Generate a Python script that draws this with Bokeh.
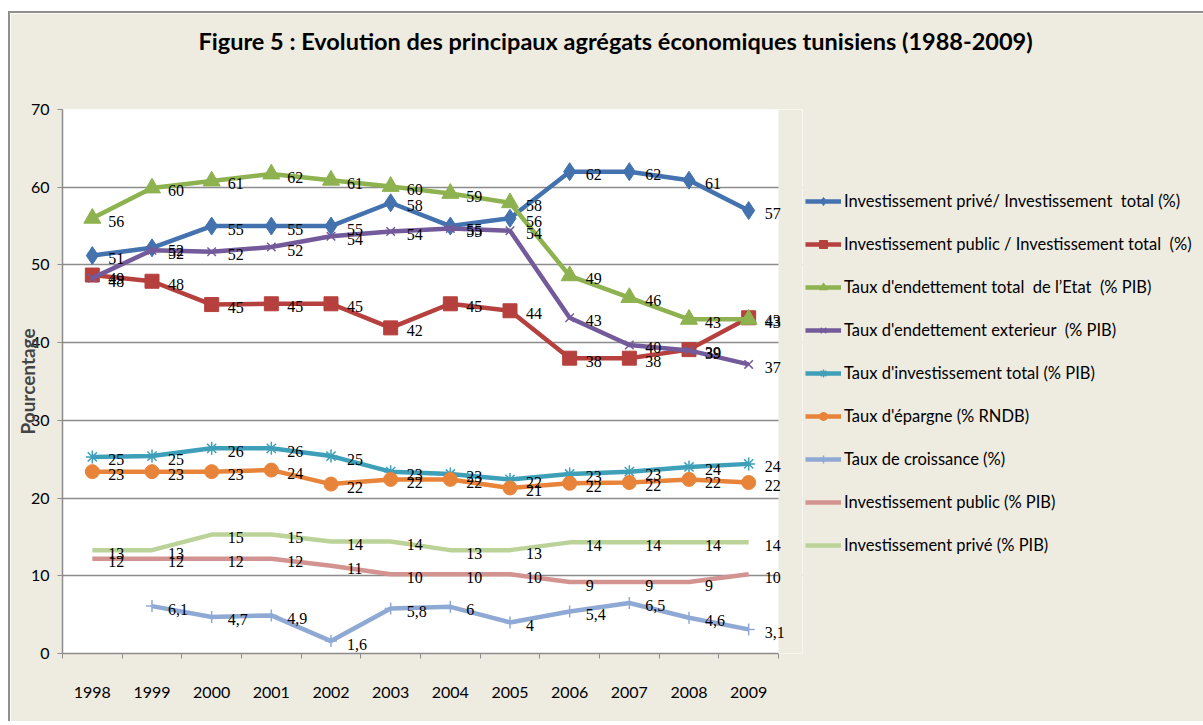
import math
from bokeh.plotting import figure
from bokeh.models import (ColumnDataSource, Range1d, LinearAxis, FixedTicker, Legend,
                          LegendItem, Title, LabelSet, NumeralTickFormatter, BoxAnnotation)
from bokeh.embed import file_html
from bokeh.resources import INLINE

# ---------------- data ----------------
years = [1998, 1999, 2000, 2001, 2002, 2003, 2004, 2005, 2006, 2007, 2008, 2009]
y_ticks = [0, 10, 20, 30, 40, 50, 60, 70]

title_text = "Figure 5 : Evolution des principaux agrégats économiques tunisiens (1988-2009)"
y_label = "Pourcentage"

names = [
    "Investissement privé/ Investissement  total (%)",
    "Investissement public / Investissement total  (%)",
    "Taux d'endettement total  de l\u2019Etat  (% PIB)",
    "Taux d'endettement exterieur  (% PIB)",
    "Taux d'investissement total (% PIB)",
    "Taux d'épargne (% RNDB)",
    "Taux de croissance (%)",
    "Investissement public (% PIB)",
    "Investissement privé (% PIB)",
]

inv_prive_sur_total = [51.2, 52.2, 55.0, 55.0, 55.0, 58.0, 55.0, 56.0, 62.0, 62.0, 60.9, 57.0]
inv_public_sur_total = [48.7, 47.9, 44.9, 45.0, 45.0, 41.9, 45.0, 44.1, 38.0, 38.0, 39.1, 43.2]
endettement_total = [56.0, 59.9, 60.8, 61.7, 60.9, 60.1, 59.2, 58.0, 48.6, 45.8, 43.0, 43.0]
endettement_ext = [48.3, 51.9, 51.7, 52.3, 53.7, 54.3, 54.7, 54.4, 43.2, 39.7, 39.0, 37.2]
investissement_total = [25.3, 25.4, 26.4, 26.4, 25.4, 23.4, 23.1, 22.4, 23.1, 23.4, 24.0, 24.4]
epargne = [23.4, 23.4, 23.4, 23.6, 21.8, 22.4, 22.4, 21.3, 21.9, 22.0, 22.4, 22.0]
croissance = [float("nan"), 6.1, 4.7, 4.9, 1.6, 5.8, 6.0, 4.0, 5.4, 6.5, 4.6, 3.1]
inv_public_pib = [12.2, 12.2, 12.2, 12.2, 11.3, 10.2, 10.2, 10.2, 9.2, 9.2, 9.2, 10.2]
inv_prive_pib = [13.3, 13.3, 15.3, 15.3, 14.4, 14.4, 13.3, 13.3, 14.3, 14.3, 14.3, 14.3]

series = [inv_prive_sur_total, inv_public_sur_total, endettement_total, endettement_ext,
          investissement_total, epargne, croissance, inv_public_pib, inv_prive_pib]

colors = ["#4372AE", "#B5403D", "#8DB24F", "#735A9A", "#3E9FB8", "#E8843A",
          "#8FA9D5", "#D39391", "#BBD399"]
markers = ["diamond", "square", "triangle", "x", "asterisk", "circle", "cross", None, None]
msizes = [18, 14, 17, 12, 13, 14, 12, 0, 0]

FONT = "Lato"
BG = "#EEEBE0"
AX = "#8C8C8C"

CAT_PX = 59.67          # pixel width of one year category
EXTRA_PX = 24           # room on the right of the plot area for end labels
x_start = years[0] - 0.5
x_end_plot = years[-1] + 0.5

p = figure(frame_width=716 + EXTRA_PX, frame_height=544,
           x_range=Range1d(x_start, x_end_plot + EXTRA_PX / CAT_PX), y_range=Range1d(0, 70),
           output_backend="svg", toolbar_location=None,
           min_border_left=52, min_border_right=397, min_border_top=96, min_border_bottom=68)
p.margin = (11, 0, 0, 8)
p.styles = {"border-top": "2px solid #8F8F8F", "border-left": "2px solid #8F8F8F"}

p.background_fill_color = "white"
p.border_fill_color = BG
p.outline_line_color = None

p.title = Title(text=title_text, align="left", offset=136, standoff=22,
                padding=dict(left=0, right=0, top=0, bottom=44),
                text_font=FONT, text_font_size="23.5px", text_font_style="bold",
                text_color="black")

# y axis
ya = p.yaxis[0]
ya.ticker = FixedTicker(ticks=y_ticks)
ya.axis_label = y_label
ya.axis_label_text_font = FONT
ya.axis_label_text_font_style = "bold"
ya.axis_label_text_font_size = "19px"
ya.axis_label_standoff = -11
ya.major_label_text_font = FONT
ya.major_label_text_font_size = "16px"
ya.major_label_text_color = "black"
ya.major_label_standoff = 8
ya.major_tick_out = 5
ya.major_tick_in = 0
ya.minor_tick_line_color = None
ya.axis_line_color = AX
ya.axis_line_width = 1.5
ya.major_tick_line_color = AX

p.ygrid.ticker = FixedTicker(ticks=y_ticks)
p.ygrid.grid_line_color = AX
p.ygrid.grid_line_width = 1.5
p.xgrid.visible = False

# x axis: ticks at category boundaries
xa = p.xaxis[0]
xa.ticker = FixedTicker(ticks=[y - 0.5 for y in years] + [years[-1] + 0.5])
xa.bounds = (x_start, x_end_plot)
xa.major_label_text_font_size = "1px"
xa.major_label_text_color = None
xa.major_label_standoff = 0
xa.major_tick_out = 5
xa.major_tick_in = 0
xa.minor_tick_line_color = None
xa.axis_line_color = AX
xa.axis_line_width = 1.5
xa.major_tick_line_color = AX

# x axis: year labels at category centers
xl = LinearAxis(ticker=FixedTicker(ticks=years), formatter=NumeralTickFormatter(format="0"),
                axis_line_color=None, major_tick_line_color=None, minor_tick_line_color=None,
                major_tick_out=0, major_tick_in=0, major_label_standoff=28,
                major_label_text_font=FONT, major_label_text_font_size="16px",
                major_label_text_color="black")
p.add_layout(xl, "below")

# beige strip right of the plot area (holds the end-of-line labels)
p.add_layout(BoxAnnotation(left=x_end_plot, fill_color=BG, fill_alpha=1.0, line_color=None))

items = []
for i, vals in enumerate(series):
    r = []
    ln = p.line(years, vals, line_color=colors[i], line_width=4.5)
    r.append(ln)
    if markers[i] is not None:
        sc = p.scatter(years, vals, marker=markers[i], size=msizes[i],
                       fill_color=colors[i], line_color=colors[i],
                       line_width=1.5 if markers[i] in ("x", "asterisk", "cross") else 1)
        r.append(sc)
    items.append(LegendItem(label=names[i], renderers=r))

    xs, ys, ts = [], [], []
    for yr, v in zip(years, vals):
        if isinstance(v, float) and math.isnan(v):
            continue
        xs.append(yr)
        ys.append(v)
        if vals is croissance:
            ts.append(("%g" % v).replace(".", ","))
        else:
            ts.append(str(int(round(v))))
    src = ColumnDataSource(dict(x=xs, y=ys, t=ts))
    p.add_layout(LabelSet(x="x", y="y", text="t", source=src, x_offset=16, y_offset=-3,
                          text_baseline="middle", text_align="left",
                          text_font=FONT, text_font_size="16px", text_color="black"))

legend = Legend(items=items, location=(3, 98), orientation="vertical",
                spacing=23, glyph_width=36, glyph_height=20, label_height=20,
                label_standoff=3, padding=0, margin=0,
                border_line_color=None, background_fill_alpha=0,
                label_text_font=FONT, label_text_font_size="16.5px",
                label_text_color="black")
p.add_layout(legend, "right")

open("out.html", "w").write(file_html(p, INLINE))
